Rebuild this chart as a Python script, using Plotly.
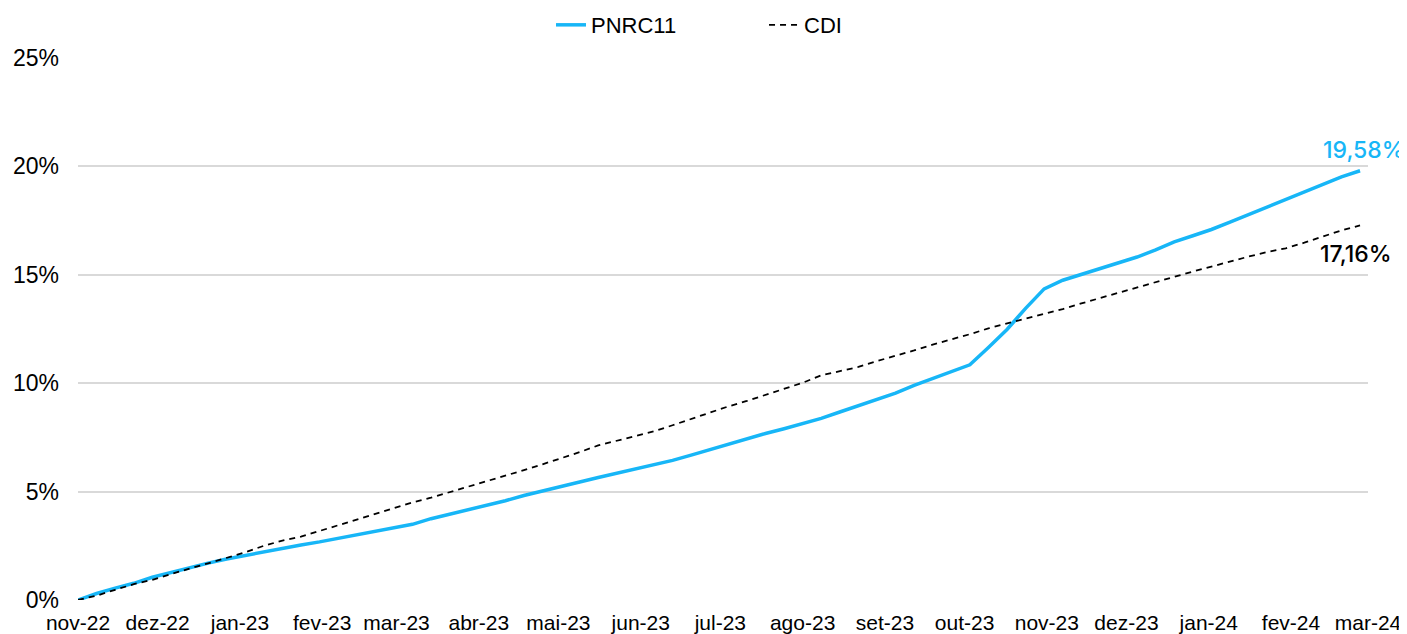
import pandas as pd
import plotly.graph_objects as go

# Weekly observation dates (Nov 1 2022 -> Feb 27 2024)
dates = pd.date_range("2022-11-01", periods=70, freq="7D")

pnrc11 = [0.00, 0.30, 0.55, 0.77, 1.05, 1.28, 1.50, 1.70, 1.89, 2.06,
          2.24, 2.41, 2.54, 2.68, 2.84, 3.01, 3.19, 3.34, 3.49, 3.75,
          3.95, 4.16, 4.36, 4.58, 4.82, 5.04, 5.24, 5.44, 5.65, 5.84,
          6.03, 6.23, 6.44, 6.68, 6.93, 7.20, 7.43, 7.68, 7.90, 8.14,
          8.38, 8.67, 8.95, 9.23, 9.54, 9.90, 10.22, 10.50, 10.85, 11.65,
          12.48, 13.45, 14.35, 14.75, 15.02, 15.29, 15.58, 15.82, 16.15, 16.52,
          16.80, 17.09, 17.43, 17.78, 18.14, 18.48, 18.82, 19.18, 19.52, 19.80]

cdi = [0.00, 0.20, 0.47, 0.73, 0.93, 1.20, 1.45, 1.69, 1.93, 2.20,
       2.50, 2.74, 2.92, 3.18, 3.46, 3.72, 3.98, 4.24, 4.50, 4.72,
       4.97, 5.23, 5.47, 5.72, 5.99, 6.26, 6.53, 6.82, 7.13, 7.35,
       7.55, 7.78, 8.06, 8.35, 8.62, 8.93, 9.18, 9.45, 9.73, 10.02,
       10.36, 10.55, 10.75, 11.02, 11.25, 11.51, 11.78, 12.01, 12.26, 12.53,
       12.75, 12.98, 13.18, 13.42, 13.68, 13.93, 14.15, 14.42, 14.67, 14.92,
       15.15, 15.38, 15.62, 15.84, 16.05, 16.22, 16.48, 16.78, 17.05, 17.28]

month_ticks = pd.date_range("2022-11-01", "2024-03-01", freq="MS")
month_labels = ["nov-22", "dez-22", "jan-23", "fev-23", "mar-23", "abr-23",
                "mai-23", "jun-23", "jul-23", "ago-23", "set-23", "out-23",
                "nov-23", "dez-23", "jan-24", "fev-24", "mar-24"]

end_label_pnrc = "19,58%"
end_label_cdi = "17,16%"

BLUE = "#17B6F7"
FONT = "Liberation Sans, Arial, sans-serif"
LABEL_FONT = "Inter, Lato, sans-serif"

fig = go.Figure()
fig.add_trace(go.Scatter(x=dates, y=pnrc11, name="PNRC11", mode="lines",
                         line=dict(color=BLUE, width=3.5)))
fig.add_trace(go.Scatter(x=dates, y=cdi, name="CDI", mode="lines",
                         line=dict(color="#000000", width=1.8, dash="6px,5px")))

fig.add_annotation(x=dates[-1], y=pnrc11[-1], text=end_label_pnrc, showarrow=False,
                   xshift=4, yshift=21,
                   font=dict(family=LABEL_FONT, size=23, color=BLUE, weight=500))
fig.add_annotation(x=dates[-1], y=cdi[-1], text=end_label_cdi, showarrow=False,
                   xshift=-4, yshift=-29,
                   font=dict(family=LABEL_FONT, size=23, color="#000000", weight=500))

# page body has an 8px margin, so the figure is drawn 8px in from top-left
fig.update_layout(
    width=1399, height=626,
    margin=dict(l=70, r=39, t=50, b=34, autoexpand=False),
    paper_bgcolor="white", plot_bgcolor="white",
    font=dict(family=FONT, size=21, color="#000000"),
    showlegend=True,
    legend=dict(orientation="h", x=0.5404, xanchor="center", xref="container",
                y=0.9728, yanchor="middle", yref="container",
                entrywidth=168, entrywidthmode="pixels",
                font=dict(family=FONT, size=22), bgcolor="rgba(0,0,0,0)"),
    xaxis=dict(type="date", range=[month_ticks[0], month_ticks[-1]],
               tickvals=month_ticks, ticktext=month_labels, automargin=False,
               showgrid=False, zeroline=False, showline=False, ticks="",
               ticklabelstandoff=8, tickfont=dict(family=FONT, size=21)),
    yaxis=dict(range=[0, 25], dtick=5, ticksuffix="%", showgrid=True, automargin=False,
               gridcolor="#D9D9D9", gridwidth=2, zeroline=False, showline=False,
               ticks="", ticklabelstandoff=18, tickfont=dict(family=FONT, size=23)),
)

fig.write_html("out.html")
